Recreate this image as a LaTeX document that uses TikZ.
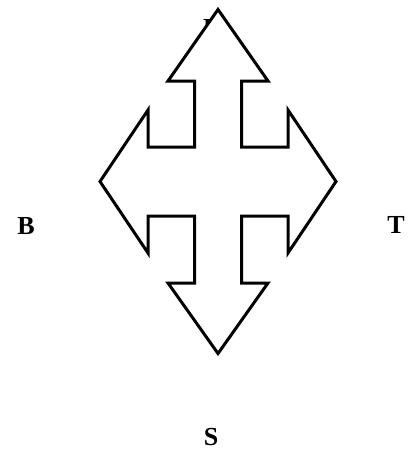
\documentclass[tikz,border=0pt]{standalone}
\usepackage{fontspec}
\setmainfont{Liberation Serif}
\begin{document}
\begin{tikzpicture}[x=1pt,y=-1pt,
  lbl/.style={font=\fontsize{26}{28}\selectfont\bfseries, inner sep=0pt},
  crossarrow/.style={draw=black, fill=white, line width=3pt, line join=miter}]
\useasboundingbox (0,0) rectangle (412,455);
\node[lbl] (F) at (211,28) {F};
\node[lbl] (B) at (26,226) {B};
\node[lbl] (T) at (396,225) {T};
\node[lbl] (S) at (211,437) {S};
\draw[crossarrow] (218,9.5) -- (268,81) -- (241.5,81) -- (241.5,147) -- (288,147) -- (288,110)
  -- (336,181.5) -- (288,253) -- (288,216) -- (241.5,216) -- (241.5,283) -- (268,283)
  -- (218,353.5) -- (168,283) -- (194.5,283) -- (194.5,216) -- (148,216) -- (148,253)
  -- (100,181.5) -- (148,110) -- (148,147) -- (194.5,147) -- (194.5,81) -- (168,81) -- cycle;
\end{tikzpicture}
\end{document}
